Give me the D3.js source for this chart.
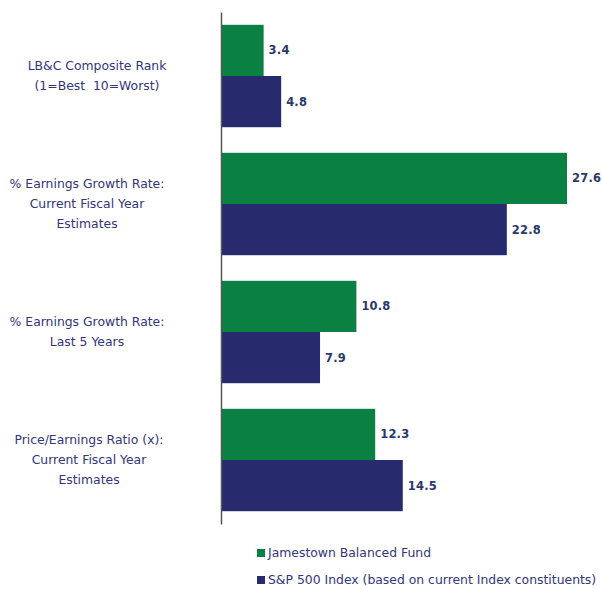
<!DOCTYPE html>
<html><head><meta charset="utf-8">
<script src="https://cdn.jsdelivr.net/npm/d3@7"></script>
<style>body{margin:0;background:#fff}svg{display:block}</style>
</head><body>
<script>
const categories = [
  ["LB&C Composite Rank", "(1=Best  10=Worst)"],
  ["% Earnings Growth Rate:", "Current Fiscal Year", "Estimates"],
  ["% Earnings Growth Rate:", "Last 5 Years"],
  ["Price/Earnings Ratio (x):", "Current Fiscal Year", "Estimates"]
];
const seriesNames = ["Jamestown Balanced Fund", "S&P 500 Index (based on current Index constituents)"];
const fundValues = [3.4, 27.6, 10.8, 12.3];
const indexValues = [4.8, 22.8, 7.9, 14.5];
const colors = ["#0a8042", "#272a6d"];

const W = 602, H = 589;
const svg = d3.select("body").append("svg").attr("width", W).attr("height", H);
const font = "DejaVu Sans, Verdana, sans-serif";

const y = d3.scaleBand().domain(d3.range(categories.length)).range([12, 524]).paddingInner(0.2).paddingOuter(0.1);
const ySub = d3.scaleBand().domain([0, 1]).range([0, y.bandwidth()]);
const x = d3.scaleLinear().domain([0, 27.6]).range([221, 567]);

const series = [fundValues, indexValues];
series.forEach((vals, s) => {
  const g = svg.append("g");
  g.selectAll("rect").data(vals).join("rect")
    .attr("x", x(0)).attr("y", (d, i) => y(i) + ySub(s))
    .attr("width", d => x(d) - x(0)).attr("height", ySub.bandwidth())
    .attr("fill", colors[s]);
  g.selectAll("text").data(vals).join("text")
    .attr("x", d => x(d) + 5).attr("y", (d, i) => y(i) + ySub(s) + ySub.bandwidth() / 2)
    .attr("dy", "0.35em")
    .attr("font-family", font).attr("font-weight", "bold").attr("font-size", 11.5)
    .attr("letter-spacing", 0.2)
    .attr("fill", "#2b386b").text(d => d.toFixed(1));
});

// axis line
const yAxis = d3.axisLeft(y).tickSize(0).tickFormat("");
svg.append("g").attr("transform", `translate(${x(0)},0)`).call(yAxis)
  .call(g => g.select(".domain").attr("stroke", "#555").attr("stroke-width", 1.5));

// category labels
const labelCenters = [97, 87, 87, 89];
categories.forEach((lines, i) => {
  const cy = y(i) + y.bandwidth() / 2;
  const n = lines.length;
  lines.forEach((t, k) => {
    svg.append("text").attr("x", labelCenters[i]).attr("y", cy + (k - (n - 1) / 2) * 20)
      .attr("dy", "0.35em").attr("text-anchor", "middle")
      .attr("font-family", font).attr("font-size", 12.4).attr("fill", "#33357a")
      .style("white-space", "pre").text(t);
  });
});

// legend
seriesNames.forEach((name, s) => {
  const ly = 553 + s * 27;
  svg.append("rect").attr("x", 257).attr("y", ly - 4).attr("width", 8).attr("height", 8).attr("fill", colors[s]);
  svg.append("text").attr("x", 268).attr("y", ly).attr("dy", "0.35em")
    .attr("font-family", font).attr("font-size", 12.4).attr("fill", "#33357a").text(name);
});
</script>
</body></html>
